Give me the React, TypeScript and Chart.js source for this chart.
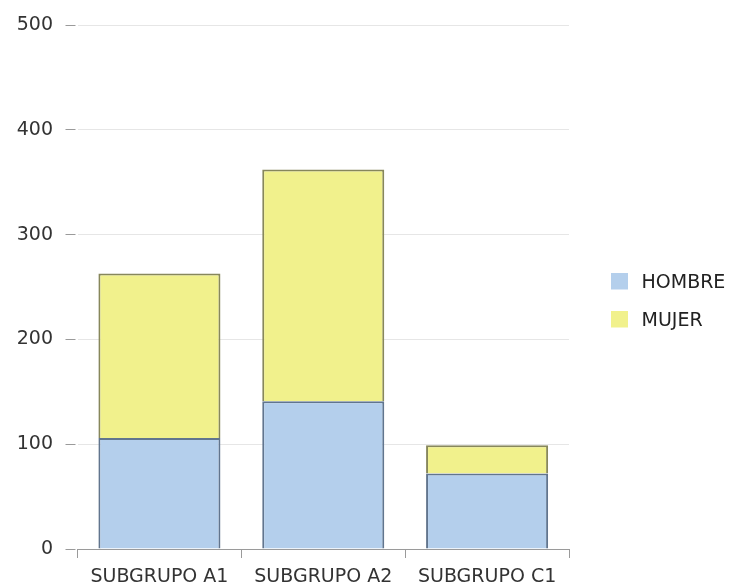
import React, { useEffect, useRef } from 'react';
import { Chart, registerables } from 'chart.js';

Chart.register(...registerables);

const categories = ['SUBGRUPO A1', 'SUBGRUPO A2', 'SUBGRUPO C1'];
const seriesNames = ['HOMBRE', 'MUJER'];
const hombre = [106, 141, 72];
const mujer = [157, 221, 27];
const yTicks = [0, 100, 200, 300, 400, 500];

const fills = ['#b4cfec', '#f1f18c'];
const borders = ['#61758e', '#87875b'];

function legendSwatch(color: string): HTMLCanvasElement {
  const c = document.createElement('canvas');
  c.width = 44;
  c.height = 21;
  const ctx = c.getContext('2d');
  if (ctx) {
    ctx.fillStyle = color;
    ctx.fillRect(23, 0, 17, 17);
  }
  return c;
}

export default function App() {
  const ref = useRef<HTMLCanvasElement | null>(null);

  useEffect(() => {
    if (!ref.current) return;
    Chart.defaults.font.family = "'DejaVu Sans', sans-serif";
    const swatches = fills.map((f) => legendSwatch(f));
    const chart = new Chart(ref.current, {
      type: 'bar',
      data: {
        labels: categories,
        datasets: [
          {
            label: seriesNames[0],
            data: hombre,
            backgroundColor: fills[0],
            borderColor: borders[0],
            borderWidth: 2,
          },
          {
            label: seriesNames[1],
            data: mujer,
            backgroundColor: fills[1],
            borderColor: borders[1],
            borderWidth: 2,
          },
        ],
      },
      options: {
        animation: false,
        responsive: false,
        devicePixelRatio: 1,
        layout: { padding: { top: 16, left: 4.25, right: 0, bottom: 0 } },
        datasets: { bar: { barPercentage: 0.745, categoryPercentage: 1 } },
        plugins: {
          tooltip: { enabled: false },
          legend: {
            position: 'right',
            align: 'center',
            maxWidth: 160,
            labels: {
              usePointStyle: true,
              pointStyleWidth: 44,
              padding: 19,
              color: '#222',
              font: { size: 19 },
              generateLabels: (c: any) => {
                const items = (Chart.defaults.plugins.legend.labels as any).generateLabels(c);
                items.forEach((it: any, i: number) => {
                  it.pointStyle = swatches[i];
                  it.fontColor = '#222';
                });
                return items;
              },
            },
          },
        },
        scales: {
          x: {
            stacked: true,
            grid: {
              display: true,
              drawOnChartArea: false,
              drawTicks: true,
              tickLength: 17.2,
              tickBorderDash: [8, 100],
              tickColor: '#9a9a9a',
              offset: true,
            },
            border: { display: true, color: '#9a9a9a', width: 1, z: 1 },
            ticks: { padding: -0.5, color: '#333', font: { size: 19 }, maxRotation: 0 },
          },
          y: {
            stacked: true,
            min: 0,
            max: 500,
            afterBuildTicks: (s: any) => {
              s.ticks = yTicks.map((v) => ({ value: v }));
            },
            grid: {
              color: '#e6e6e6',
              tickColor: '#9a9a9a',
              tickLength: 12,
              tickBorderDash: [10, 40],
              drawTicks: true,
            },
            border: { display: false },
            ticks: { padding: 12.5, color: '#333', font: { size: 19, lineHeight: '25px' } },
          },
        },
      } as any,
    });
    return () => chart.destroy();
  }, []);

  return (
    <div style={{ position: 'fixed', left: 0, top: 0, width: 729, height: 588, background: '#fff' }}>
      <canvas ref={ref} width={729} height={588} style={{ width: 729, height: 588, display: 'block' }} />
    </div>
  );
}
